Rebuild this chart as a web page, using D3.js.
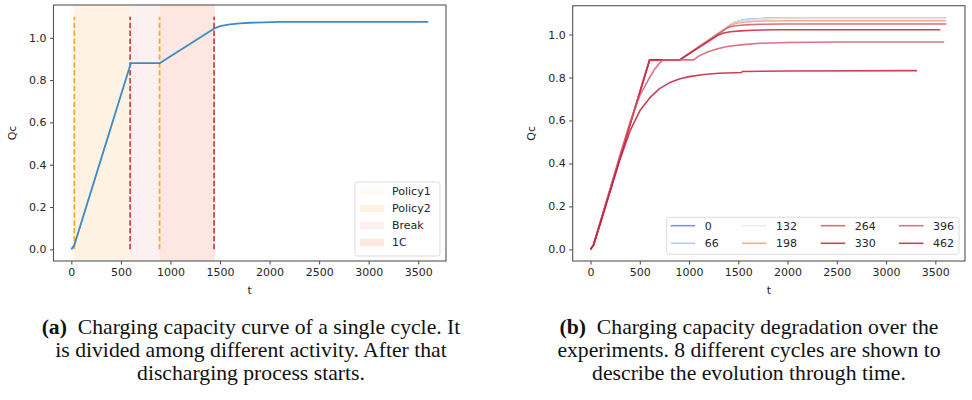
<!DOCTYPE html>
<html>
<head>
<meta charset="utf-8">
<style>
  body { margin: 0; background: #fff; }
  svg { display: block; }
</style>
</head>
<body>
<svg width="972" height="400"></svg>
<script src="https://d3js.org/d3.v7.min.js"></script>
<script>
// ---- shared ticks
var xTicks = [0, 500, 1000, 1500, 2000, 2500, 3000, 3500];
var yTicks = [0, 0.2, 0.4, 0.6, 0.8, 1.0];

// ---- panel (a): single cycle
var tA = [0, 30, 600, 890, 1450, 1500, 1600, 1700, 1800, 1950, 2100, 3600];
var qA = [0, 0.02, 0.88, 0.88, 1.046, 1.055, 1.063, 1.068, 1.071, 1.073, 1.075, 1.075];
var phases = ["Policy1", "Policy2", "Break", "1C"];
var phaseStart = [0, 30, 597, 890];
var phaseEnd = [30, 597, 890, 1450];
var phaseColors = ["#fffaf3", "#fef3e2", "#fdf0f0", "#fee7e1"];
var markT = [30, 593, 890, 1440];
var markColors = ["#fcaa2a", "#cf474b", "#fcaa2a", "#cf474b"];

// ---- panel (b): eight cycles
var cycles = [0, 66, 132, 198, 264, 330, 396, 462];
var cycleColors = ["#6b80d8", "#a9c3f6", "#ece6e6", "#f59e7e", "#d65666", "#c8203a", "#d35a6c", "#c41d3c"];
var cycleT = [
  [0, 30, 600, 905, 1446, 1500, 1560, 1650, 1780, 1950, 2200, 3590],
  [0, 30, 600, 905, 1446, 1500, 1560, 1650, 1780, 1950, 2200, 3611],
  [0, 30, 600, 905, 1440, 1500, 1560, 1650, 1780, 1950, 2200, 3590],
  [0, 30, 600, 905, 1420, 1480, 1550, 1650, 1780, 1950, 2200, 3611],
  [0, 30, 600, 905, 1385, 1440, 1520, 1620, 1750, 1950, 2200, 3611],
  [0, 30, 600, 905, 1300, 1350, 1420, 1520, 1650, 1850, 2100, 3550],
  [0, 30, 300, 400, 500, 600, 650, 700, 735, 1048, 1100, 1200, 1300, 1400, 1550, 1720, 2000, 2500, 3590],
  [0, 30, 100, 200, 300, 400, 500, 600, 700, 800, 900, 1000, 1150, 1300, 1530, 1545, 2000, 3313]
];
var cycleQ = [
  [0, 0.02, 0.882, 0.882, 1.053, 1.062, 1.068, 1.072, 1.075, 1.077, 1.078, 1.078],
  [0, 0.02, 0.882, 0.882, 1.053, 1.062, 1.068, 1.072, 1.075, 1.077, 1.078, 1.078],
  [0, 0.02, 0.882, 0.882, 1.051, 1.060, 1.066, 1.070, 1.073, 1.075, 1.076, 1.076],
  [0, 0.02, 0.882, 0.882, 1.043, 1.052, 1.057, 1.061, 1.063, 1.064, 1.064, 1.064],
  [0, 0.02, 0.882, 0.882, 1.030, 1.038, 1.043, 1.046, 1.048, 1.049, 1.049, 1.049],
  [0, 0.02, 0.882, 0.882, 0.998, 1.007, 1.013, 1.017, 1.020, 1.022, 1.022, 1.022],
  [0, 0.02, 0.44, 0.59, 0.715, 0.80, 0.838, 0.866, 0.882, 0.882, 0.900, 0.921, 0.935, 0.945, 0.953, 0.959, 0.963, 0.965, 0.965],
  [0, 0.02, 0.12, 0.27, 0.42, 0.55, 0.645, 0.705, 0.748, 0.775, 0.793, 0.804, 0.814, 0.820, 0.823, 0.828, 0.830, 0.832]
];

// ---- captions
var captionA = ["Charging capacity curve of a single cycle. It", "is divided among different activity. After that", "discharging process starts."];
var captionB = ["Charging capacity degradation over the", "experiments. 8 different cycles are shown to", "describe the evolution through time."];

var svg = d3.select("svg");
var tickFont = "DejaVu Sans, sans-serif";
var tickSize = "11px";

function frame(box, xDom, yDom) {
  var x = d3.scaleLinear().domain(xDom).range([box.left, box.right]);
  var y = d3.scaleLinear().domain(yDom).range([box.bottom, box.top]);
  var g = svg.append("g");
  box.g = g;
  box.x = x;
  box.y = y;
  box.plot = g.append("g");
  var clipId = "clip" + Math.round(box.left);
  g.append("clipPath").attr("id", clipId).append("rect")
    .attr("x", box.left).attr("y", box.top)
    .attr("width", box.right - box.left).attr("height", box.bottom - box.top);
  box.plot.attr("clip-path", "url(#" + clipId + ")");
  return box;
}

function axes(box) {
  var g = box.g;
  var ax = g.append("g").attr("transform", "translate(0," + box.bottom + ")")
    .call(d3.axisBottom(box.x).tickValues(xTicks).tickSize(3.5).tickPadding(3.5).tickFormat(d3.format("d")));
  var ay = g.append("g").attr("transform", "translate(" + box.left + ",0)")
    .call(d3.axisLeft(box.y).tickValues(yTicks).tickSize(3.5).tickPadding(3.5).tickFormat(d3.format(".1f")));
  [ax, ay].forEach(function(a) {
    a.select(".domain").remove();
    a.selectAll("line").attr("stroke", "#333").attr("stroke-width", 0.9);
    a.selectAll("text").attr("fill", "#262626").style("font-family", tickFont).style("font-size", tickSize);
  });
  g.append("rect")
    .attr("x", box.left).attr("y", box.top)
    .attr("width", box.right - box.left).attr("height", box.bottom - box.top)
    .attr("fill", "none").attr("stroke", "#555").attr("stroke-width", 1.1);
  g.append("text").attr("x", (box.left + box.right) / 2).attr("y", box.bottom + 33)
    .attr("text-anchor", "middle").attr("fill", "#262626")
    .style("font-family", tickFont).style("font-size", tickSize).text("t");
  g.append("text")
    .attr("transform", "translate(" + (box.left - 38) + "," + ((box.top + box.bottom) / 2) + ") rotate(-90)")
    .attr("text-anchor", "middle").attr("fill", "#262626")
    .style("font-family", tickFont).style("font-size", tickSize).text("Qc");
}

var line = d3.line().x(function(d) { return d[0]; }).y(function(d) { return d[1]; });

// ================= panel (a)
var A = frame({ left: 53.5, right: 446, top: 5, bottom: 261 }, [-180, 3780], [-0.055, 1.155]);

phases.forEach(function(p, i) {
  A.plot.append("rect")
    .attr("x", A.x(phaseStart[i])).attr("y", A.top)
    .attr("width", A.x(phaseEnd[i]) - A.x(phaseStart[i])).attr("height", A.bottom - A.top)
    .attr("fill", phaseColors[i]);
});
markT.forEach(function(t, i) {
  A.plot.append("line")
    .attr("x1", A.x(t)).attr("x2", A.x(t))
    .attr("y1", A.y(0)).attr("y2", A.y(1.1))
    .attr("stroke", markColors[i]).attr("stroke-width", 1.8)
    .attr("stroke-dasharray", "5.5,2.4");
});
A.plot.append("path")
  .attr("d", line(tA.map(function(t, i) { return [A.x(t), A.y(qA[i])]; })))
  .attr("fill", "none").attr("stroke", "#3f8ac4").attr("stroke-width", 1.8)
  .attr("stroke-linejoin", "round");
axes(A);

// legend (a)
var legA = A.g.append("g");
legA.append("rect").attr("x", 355).attr("y", 182).attr("width", 85).attr("height", 74).attr("rx", 2.5)
  .attr("fill", "#fff").attr("fill-opacity", 0.8).attr("stroke", "#d8d8d8").attr("stroke-width", 0.9);
phases.forEach(function(p, i) {
  var cy = 191.5 + i * 17;
  legA.append("rect").attr("x", 360).attr("y", cy - 3.8).attr("width", 24).attr("height", 7.6)
    .attr("fill", phaseColors[i]);
  legA.append("text").attr("x", 392).attr("y", cy).attr("dy", "0.35em")
    .attr("fill", "#262626").style("font-family", tickFont).style("font-size", tickSize).text(p);
});

// ================= panel (b)
var B = frame({ left: 572.7, right: 965, top: 5.7, bottom: 261 }, [-181, 3801], [-0.054, 1.134]);
cycles.forEach(function(c, k) {
  B.plot.append("path")
    .attr("d", line(cycleT[k].map(function(t, i) { return [B.x(t), B.y(cycleQ[k][i])]; })))
    .attr("fill", "none").attr("stroke", cycleColors[k]).attr("stroke-width", 1.6)
    .attr("stroke-opacity", 0.85).attr("stroke-linejoin", "round");
});
axes(B);

// legend (b)
var legB = B.g.append("g");
legB.append("rect").attr("x", 666.7).attr("y", 217.3).attr("width", 292.3).attr("height", 37).attr("rx", 2.5)
  .attr("fill", "#fff").attr("fill-opacity", 0.8).attr("stroke", "#d8d8d8").attr("stroke-width", 0.9);
var colX = [670.7, 742, 820.7, 899];
cycles.forEach(function(c, k) {
  var col = Math.floor(k / 2), row = k % 2;
  var cy = 225.7 + row * 17.6;
  legB.append("line").attr("x1", colX[col]).attr("x2", colX[col] + 24.5)
    .attr("y1", cy).attr("y2", cy).attr("stroke", cycleColors[k]).attr("stroke-width", 1.6)
    .attr("stroke-opacity", 0.85);
  legB.append("text").attr("x", colX[col] + 34).attr("y", cy).attr("dy", "0.35em")
    .attr("fill", "#262626").style("font-family", tickFont).style("font-size", tickSize).text(c);
});

// ================= captions
var capFont = "Liberation Serif, serif";
function caption(cx, tag, lines) {
  var g = svg.append("g").style("font-family", capFont).attr("fill", "#111");
  lines.forEach(function(l, i) {
    var t = g.append("text").attr("x", cx).attr("y", 334 + i * 23).attr("text-anchor", "middle");
    if (i === 0) {
      t.append("tspan").style("font-weight", "bold").text(tag);
      t.append("tspan").text("\u2002" + l);
    } else {
      t.text(l);
    }
  });
  return g;
}
var capA = caption(251, "(a)", captionA);
var capB = caption(749, "(b)", captionB);
// fit caption size so the first line of (a) spans about 419px
capA.style("font-size", "20px");
var w = capA.select("text").node().getComputedTextLength();
var fs = 20 * 419 / w;
capA.style("font-size", fs + "px");
capB.style("font-size", fs + "px");
</script>
</body>
</html>
